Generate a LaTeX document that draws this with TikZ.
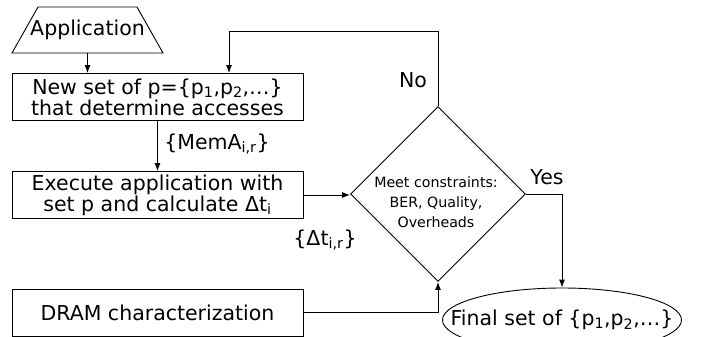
\documentclass[tikz,border=0pt]{standalone}
\usepackage{fontspec}
\setmainfont{DejaVu Sans}
\usetikzlibrary{shapes.geometric,arrows.meta}

\begin{document}
\begin{tikzpicture}[x=1pt,y=-1pt,line width=0.9pt,
  txt/.style={font=\fontsize{20.5}{18.5}\selectfont},
  box/.style={txt,draw,minimum width=291,minimum height=47,inner sep=0,align=center},
  arr/.style={-{Latex[length=8pt,width=6pt]}}]
\useasboundingbox (0,0) rectangle (701,337);

% Blocks
\node[txt,minimum width=151,minimum height=46,inner sep=0] (app) at (87.5,30) {Application};
\draw (12,53) -- (38,7) -- (137,7) -- (163,53) -- cycle;
\node[box] (newset) at (157.5,97) {New set of p=\{p\textsubscript{1},p\textsubscript{2},…\}\\that determine accesses};
\node[box] (exec) at (157.5,195) {Execute application with\\set p and calculate Δt\textsubscript{i}};
\node[box] (dram) at (157.5,312.5) {DRAM characterization};
\node[draw,diamond,minimum width=175,minimum height=175,inner sep=0] (meet) at (438,194) {};
\node[align=center,font=\fontsize{14.2}{20}\selectfont] (meettxt) at (436,202) {Meet constraints:\\BER, Quality,\\Overheads};
\node[draw,ellipse,minimum width=239,minimum height=64] (final) at (562,320) {};
\node[txt] (finaltxt) at (final) {Final set of \{p\textsubscript{1},p\textsubscript{2},…\}};

% Connectors
\coordinate (fb) at (229,31);
\draw[arr] (app.south) -- (app.south |- newset.north);
\draw[arr] (newset.south) -- (exec.north);
\draw[arr] (exec.east) -- (exec.east -| meet.west);
\draw[arr] (dram.east) -| (meet.south);
\draw[arr] (meet.north) |- (fb) -- (fb |- newset.north);
\draw[arr] (meet.east) -| (final.north);

% Labels
\node[txt] (mema) at (217,144) {\{MemA\textsubscript{i,r}\}};
\node[txt] (dt) at (325,240) {\{Δt\textsubscript{i,r}\}};
\node[txt] (no) at (413,80) {No};
\node[txt] (yes) at (547,177) {Yes};
\end{tikzpicture}
\end{document}
